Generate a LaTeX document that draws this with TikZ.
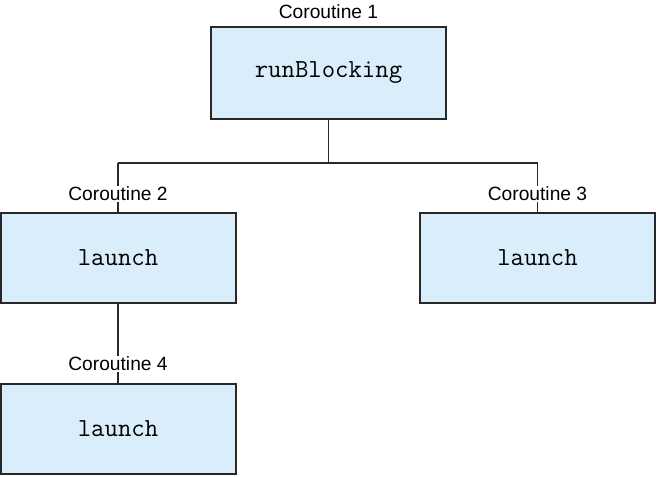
\documentclass[tikz,border=0pt]{standalone}
\usepackage{fontspec}
\setmainfont{Liberation Sans}
\usepackage{tikz}
\usetikzlibrary{positioning}
\definecolor{boxfill}{RGB}{217,238,250}
\definecolor{boxline}{RGB}{40,40,40}
\tikzset{
  cobox/.style={draw=boxline,line width=1.5pt,fill=boxfill,minimum width=176.25pt,minimum height=67.5pt,inner sep=0pt,font=\fontsize{19.5}{21}\selectfont\ttfamily},
  colabel/.style={fill=white,inner sep=1pt,font=\fontsize{14.4}{16}\selectfont},
  link/.style={draw=boxline,line width=1.1pt}
}

\begin{document}
\begin{tikzpicture}[x=0.75pt,y=-0.75pt]
  \useasboundingbox (0,0) rectangle (656,476);
  \coordinate (J) at (328.5,163); %分岐点
  \coordinate (JL) at (118,163);
  \coordinate (JR) at (537.5,163);
  % 線
  \draw[link] (328.5,119)--(J);
  \draw[link] (JL)--(JR);
  \draw[link] (JL)--(118,213);
  \draw[link] (JR)--(537.5,213);
  \draw[link] (118,303)--(118,383);
  % 箱
  \node[cobox,minimum height=69pt] (c1) at (328.5,73) {runBlocking};
  \node[cobox] (c2) at (118,258) {launch};
  \node[cobox] (c3) at (537.5,258) {launch};
  \node[cobox] (c4) at (118,428.5) {launch};
  % ラベル
  \node[colabel] (l1) at (328.5,12) {Coroutine 1};
  \node[colabel] (l2) at (118,194) {Coroutine 2};
  \node[colabel] (l3) at (537.5,194) {Coroutine 3};
  \node[colabel] (l4) at (118,364) {Coroutine 4};
\end{tikzpicture}
\end{document}
